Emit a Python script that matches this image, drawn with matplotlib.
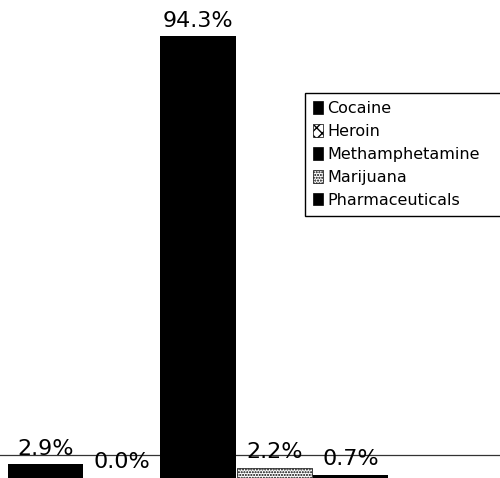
import matplotlib.pyplot as plt
from matplotlib.patches import Patch

drugs = ["Cocaine", "Heroin", "Methamphetamine", "Marijuana", "Pharmaceuticals"]
shares = [2.9, 0.0, 94.3, 2.2, 0.7]
labels = ["2.9%", "0.0%", "94.3%", "2.2%", "0.7%"]

faces = ["black", "white", "black", "white", "black"]
hatches = [None, "xxx", None, "......", None]

fig = plt.figure(figsize=(5.0, 4.78), dpi=100)
ax = fig.add_axes([0, 0, 1, 1])

pos = list(range(len(drugs)))
bars = ax.bar(pos, shares, width=0.99, color=faces, edgecolor="black", linewidth=0)
for b, h in zip(bars, hatches):
    if h:
        b.set_hatch(h)
        b.set_linewidth(0.5)

# faint rule across the bottom of the scan
ax.axhline(4.9, color="#333333", linewidth=0.9, zorder=0)

for p, v, t in zip(pos, shares, labels):
    ax.annotate(t, (p, v), xytext=(0, 4), textcoords="offset points",
                ha="center", va="bottom", fontsize=16, color="black")

ax.set_xlim(-0.596, 5.957)
ax.set_ylim(0, 102)
ax.axis("off")

handles = [Patch(facecolor=f, edgecolor="black", hatch=h, linewidth=0.5)
           for f, h in zip(faces, hatches)]
leg = fig.legend(handles, drugs, loc="upper left",
                 bbox_to_anchor=(305 / 500, 1 - 93 / 478 - 0.01, 200 / 500, 0.01), mode="expand",
                 fontsize=11.5, frameon=True, fancybox=False, framealpha=1,
                 edgecolor="black", handlelength=0.6, handleheight=0.8,
                 handletextpad=0.3, labelspacing=0.5, borderpad=0.5, borderaxespad=0)
leg.get_frame().set_linewidth(1.0)

fig.savefig("out.png", dpi=100)
